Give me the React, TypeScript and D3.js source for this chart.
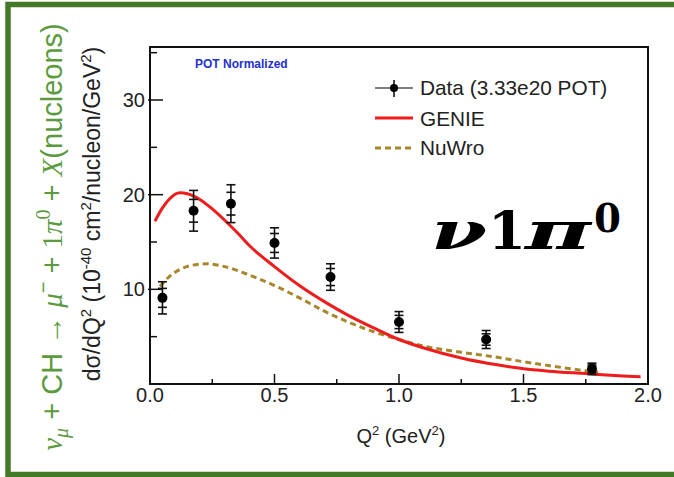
import React from "react";
import * as d3 from "d3";

// Measured differential cross section dσ/dQ² (10^-40 cm²/nucleon/GeV²)
const dataQ2 = [0.05, 0.175, 0.325, 0.5, 0.725, 1.0, 1.35, 1.775];
const dataXsec = [9.1, 18.3, 19.05, 14.9, 11.3, 6.55, 4.7, 1.6];
const dataStatErr = [1.0, 1.2, 1.2, 1.0, 0.9, 0.7, 0.6, 0.4];
const dataTotErr = [1.7, 2.15, 2.0, 1.6, 1.4, 1.1, 0.95, 0.6];

// GENIE prediction
const genieQ2 = [0.02, 0.05, 0.08, 0.12, 0.15, 0.2, 0.25, 0.3, 0.35, 0.4, 0.5, 0.6, 0.7, 0.8, 0.9, 1.0, 1.1, 1.25, 1.4, 1.5, 1.6, 1.75, 1.9, 1.97];
const genieXsec = [17.2, 18.6, 19.6, 20.2, 20.1, 19.5, 18.5, 17.3, 16.0, 14.6, 12.4, 10.4, 8.7, 7.2, 5.9, 4.7, 3.8, 2.75, 2.0, 1.6, 1.35, 1.1, 0.85, 0.75];

// NuWro prediction
const nuwroQ2 = [0.04, 0.08, 0.12, 0.17, 0.23, 0.3, 0.4, 0.5, 0.6, 0.7, 0.8, 0.9, 1.0, 1.1, 1.25, 1.4, 1.5, 1.6, 1.75, 1.8];
const nuwroXsec = [10.3, 11.4, 12.1, 12.55, 12.7, 12.4, 11.5, 10.4, 9.1, 7.7, 6.5, 5.5, 4.7, 4.0, 3.35, 2.8, 2.35, 1.95, 1.4, 1.25];

const xMajorTicks = [0, 0.5, 1.0, 1.5, 2.0];
const xMinorTicks = [0.25, 0.75, 1.25, 1.75];
const yMajorTicks = [10, 20, 30];
const yMinorTicks = [5, 15, 25, 35];

const legendLabels = ["Data (3.33e20 POT)", "GENIE", "NuWro"];

const W = 674;
const H = 477;
const frame = { left: 150, right: 648, top: 47, bottom: 384 };

const SANS = "'Liberation Sans', Arial, Helvetica, sans-serif";
const SERIF = "'Liberation Serif', 'DejaVu Serif', serif";
const WIDE_SERIF = "'DejaVu Serif', 'Liberation Serif', serif";
const RED = "#ee1c1c";
const GOLD = "#a8872c";
const GREEN_BORDER = "#437a26";
const GREEN_TEXT = "#5c9a3e";

export default function App() {
  const x = d3.scaleLinear().domain([0, 2]).range([frame.left, frame.right]);
  const y = d3.scaleLinear().domain([0, 35.6]).range([frame.bottom, frame.top]);

  const line = d3
    .line<[number, number]>()
    .x((d) => x(d[0]))
    .y((d) => y(d[1]))
    .curve(d3.curveMonotoneX);

  const geniePath = line(genieQ2.map((q, i) => [q, genieXsec[i]]));
  const nuwroPath = line(nuwroQ2.map((q, i) => [q, nuwroXsec[i]]));

  const cap = 4.5;

  return (
    <div style={{ position: "fixed", left: 0, top: 0, width: W, height: H, background: "#fff" }}>
      <svg width={W} height={H} viewBox={`0 0 ${W} ${H}`} style={{ display: "block" }}>
        <rect x={0} y={0} width={W} height={H} fill="#fff" />
        {/* outer green panel border */}
        <rect x={8} y={4.5} width={W + 20} height={470} fill="none" stroke={GREEN_BORDER} strokeWidth={5.5} />

        {/* process label */}
        <text
          transform={`translate(62, 237) rotate(-90)`}
          textAnchor="middle"
          fill={GREEN_TEXT}
          fontSize={29}
          fontFamily={SANS}
        >
          <tspan fontFamily={SERIF} fontStyle="italic">ν</tspan>
          <tspan fontFamily={SERIF} fontStyle="italic" fontSize={20} dy={6}>μ</tspan>
          <tspan dy={-6}> + CH → </tspan>
          <tspan fontFamily={SERIF} fontStyle="italic">μ</tspan>
          <tspan fontSize={20} dy={-12}>−</tspan>
          <tspan dy={12}> + </tspan>
          <tspan fontFamily={SERIF}>1</tspan>
          <tspan fontFamily={SERIF} fontStyle="italic">π</tspan>
          <tspan fontFamily={SERIF} fontSize={20} dy={-12}>0</tspan>
          <tspan dy={12}> + </tspan>
          <tspan fontFamily={SERIF} fontStyle="italic">X</tspan>
          <tspan>(nucleons)</tspan>
        </text>

        {/* y axis title */}
        <text
          transform={`translate(100, 214) rotate(-90)`}
          textAnchor="middle"
          fill="#222"
          fontSize={23}
          fontFamily={SANS}
        >
          <tspan>dσ/dQ</tspan>
          <tspan fontSize={15} dy={-9}>2</tspan>
          <tspan dy={9}> (10</tspan>
          <tspan fontSize={15} dy={-9}>-40</tspan>
          <tspan dy={9}> cm</tspan>
          <tspan fontSize={15} dy={-9}>2</tspan>
          <tspan dy={9}>/nucleon/GeV</tspan>
          <tspan fontSize={15} dy={-9}>2</tspan>
          <tspan dy={9}>)</tspan>
        </text>

        {/* x axis title */}
        <text x={401} y={443} textAnchor="middle" fill="#222" fontSize={20} fontFamily={SANS}>
          <tspan>Q</tspan>
          <tspan fontSize={13} dy={-8}>2</tspan>
          <tspan dy={8}> (GeV</tspan>
          <tspan fontSize={13} dy={-8}>2</tspan>
          <tspan dy={8}>)</tspan>
        </text>

        {/* curves */}
        <path d={nuwroPath ?? ""} fill="none" stroke={GOLD} strokeWidth={3} strokeDasharray="6,4" />
        <path d={geniePath ?? ""} fill="none" stroke={RED} strokeWidth={3} />

        {/* data points with stat and total error bars */}
        {dataQ2.map((q, i) => {
          const cx = x(q);
          const cy = y(dataXsec[i]);
          const yt = y(dataXsec[i] + dataTotErr[i]);
          const yb = y(dataXsec[i] - dataTotErr[i]);
          const st = y(dataXsec[i] + dataStatErr[i]);
          const sb = y(dataXsec[i] - dataStatErr[i]);
          return (
            <g key={i} stroke="#111" strokeWidth={1.6}>
              <line x1={cx} x2={cx} y1={yt} y2={yb} />
              {[yt, yb, st, sb].map((yy, k) => (
                <line key={k} x1={cx - cap} x2={cx + cap} y1={yy} y2={yy} />
              ))}
              <circle cx={cx} cy={cy} r={5} fill="#000" stroke="none" />
            </g>
          );
        })}

        {/* frame */}
        <rect
          x={frame.left}
          y={frame.top}
          width={frame.right - frame.left}
          height={frame.bottom - frame.top}
          fill="none"
          stroke="#111"
          strokeWidth={2}
        />

        {/* x ticks */}
        {xMajorTicks.map((t) => (
          <g key={`xM${t}`}>
            <line x1={x(t)} x2={x(t)} y1={frame.bottom} y2={frame.bottom - 10} stroke="#111" strokeWidth={1.5} />
            <text x={x(t)} y={402} textAnchor="middle" fontSize={20} fontFamily={SANS} fill="#222">
              {t.toFixed(1)}
            </text>
          </g>
        ))}
        {xMinorTicks.map((t) => (
          <line key={`xm${t}`} x1={x(t)} x2={x(t)} y1={frame.bottom} y2={frame.bottom - 5} stroke="#111" strokeWidth={1.5} />
        ))}

        {/* y ticks */}
        {yMajorTicks.map((t) => (
          <g key={`yM${t}`}>
            <line x1={frame.left - 2} x2={frame.left + 13} y1={y(t)} y2={y(t)} stroke="#111" strokeWidth={1.5} />
            <text x={145} y={y(t) + 7} textAnchor="end" fontSize={20} fontFamily={SANS} fill="#222">
              {t}
            </text>
          </g>
        ))}
        {yMinorTicks.map((t) => (
          <line key={`ym${t}`} x1={frame.left} x2={frame.left + 7} y1={y(t)} y2={y(t)} stroke="#111" strokeWidth={1.5} />
        ))}

        {/* normalization note */}
        <text x={195} y={68} fontSize={12} fontWeight="bold" fontFamily={SANS} fill="#2430d0">
          POT Normalized
        </text>

        {/* legend */}
        <g fontFamily={SANS} fontSize={20.8} fill="#222">
          <line x1={375} x2={413} y1={88} y2={88} stroke="#555" strokeWidth={1.6} />
          <line x1={394} x2={394} y1={80} y2={97} stroke="#111" strokeWidth={1.6} />
          <circle cx={394} cy={88} r={4} fill="#000" />
          <text x={420} y={95}>{legendLabels[0]}</text>

          <line x1={375} x2={413} y1={118} y2={118} stroke={RED} strokeWidth={3} />
          <text x={420} y={126}>{legendLabels[1]}</text>

          <line x1={375} x2={413} y1={148} y2={148} stroke={GOLD} strokeWidth={3} strokeDasharray="6,4" />
          <text x={420} y={155}>{legendLabels[2]}</text>
        </g>

        {/* channel label */}
        <g fontFamily={WIDE_SERIF} fontWeight="bold" fill="#000" fontSize={52}>
          <text x={431} y={249} fontStyle="italic" textLength={56} lengthAdjust="spacingAndGlyphs">ν</text>
          <text x={488} y={249} textLength={38} lengthAdjust="spacingAndGlyphs">1</text>
          <text x={525} y={249} fontStyle="italic" textLength={66} lengthAdjust="spacingAndGlyphs">π</text>
          <text x={594} y={232} fontSize={40} textLength={27} lengthAdjust="spacingAndGlyphs">0</text>
        </g>
      </svg>
    </div>
  );
}
